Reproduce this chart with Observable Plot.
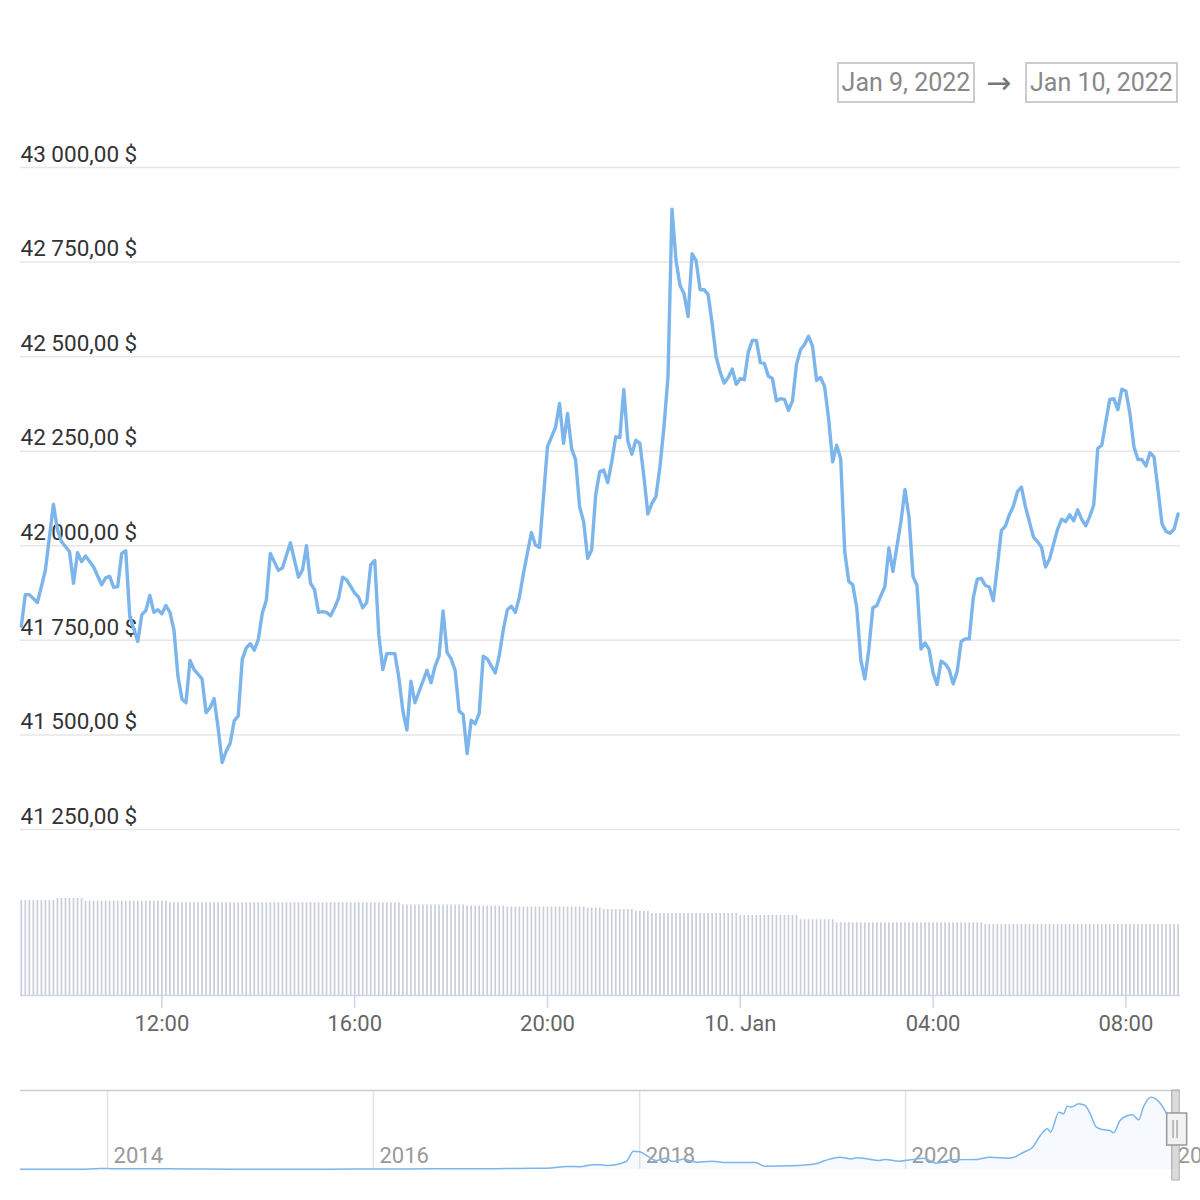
<!DOCTYPE html>
<html>
<head>
<meta charset="utf-8">
<script src="https://cdn.jsdelivr.net/npm/d3@7"></script>
<script src="https://cdn.jsdelivr.net/npm/@observablehq/plot@0.6"></script>
<style>
  body { margin: 0; background: #ffffff; font-family: Roboto, sans-serif; }
  #wrap { position: relative; width: 1200px; height: 1200px; overflow: hidden; background: #fff; }
  .box { position: absolute; top: 62px; height: 41px; border: 2px solid #cccccc; box-sizing: border-box;
         color: #888888; font-size: 25px; line-height: 37px; text-align: center; font-family: Roboto, sans-serif; }
  .arrow { position: absolute; top: 62px; height: 41px; line-height: 41px; color: #777777; font-size: 30px; font-family: "DejaVu Sans", sans-serif; }
  .layer { position: absolute; left: 0; }
</style>
</head>
<body>
<div id="wrap">
  <div class="box" style="left:837px;width:138px;">Jan 9, 2022</div>
  <div class="arrow" style="left:986px;">→</div>
  <div class="box" style="left:1025px;width:153px;">Jan 10, 2022</div>
  <div id="price" class="layer" style="top:0px;"></div>
  <div id="volume" class="layer" style="top:880px;"></div>
  <div id="nav" class="layer" style="top:1085px;"></div>
</div>
<script>
// ---------- price data (5-minute samples) ----------
const jan9Times = ["09:05","09:10","09:15","09:25","09:30","09:35","09:45","09:50","09:55","10:05","10:10","10:15","10:20","10:25","10:35","10:45","10:50","10:55","11:00","11:05","11:10","11:15","11:20","11:30","11:35","11:40","11:45","11:50","11:55","12:00","12:05","12:10","12:15","12:20","12:25","12:30","12:35","12:40","12:50","12:55","13:00","13:05","13:10","13:15","13:20","13:25","13:30","13:35","13:40","13:45","13:50","13:55","14:00","14:05","14:10","14:15","14:25","14:30","14:40","14:50","14:55","15:00","15:05","15:10","15:15","15:20","15:25","15:30","15:35","15:40","15:45","15:50","16:00","16:05","16:10","16:15","16:20","16:25","16:30","16:35","16:40","16:50","16:55","17:00","17:05","17:10","17:15","17:30","17:35","17:40","17:45","17:50","17:55","18:00","18:05","18:10","18:15","18:20","18:25","18:30","18:35","18:40","18:45","18:55","19:00","19:05","19:10","19:15","19:20","19:25","19:30","19:40","19:45","19:50","20:00","20:10","20:15","20:20","20:25","20:30","20:35","20:40","20:45","20:50","20:55","21:00","21:05","21:10","21:15","21:20","21:25","21:30","21:35","21:40","21:45","21:50","21:55","22:00","22:05","22:10","22:15","22:20","22:25","22:30","22:35","22:40","22:45","22:50","22:55","23:00","23:05","23:10","23:15","23:20","23:25","23:30","23:35","23:40","23:45","23:50","23:55"];
const jan9Prices = [41787,41871,41871,41850,41892,41936,42110,42042,42011,41985,41901,41982,41958,41973,41944,41897,41915,41919,41890,41892,41980,41987,41813,41747,41818,41829,41869,41824,41831,41820,41842,41824,41778,41655,41595,41585,41697,41673,41648,41559,41572,41596,41519,41427,41457,41478,41537,41550,41699,41730,41741,41724,41752,41822,41856,41980,41935,41941,42008,41917,41936,42000,41901,41884,41824,41826,41824,41815,41836,41862,41917,41910,41875,41864,41836,41850,41950,41961,41765,41673,41715,41715,41651,41563,41513,41642,41585,41671,41638,41681,41708,41828,41718,41701,41671,41563,41554,41451,41539,41530,41557,41708,41701,41664,41710,41778,41831,41840,41824,41864,41926,42035,42002,41996,42262,42313,42376,42271,42350,42257,42227,42103,42064,41967,41989,42134,42196,42200,42167,42222,42288,42286,42413,42277,42242,42279,42271,42183,42084,42112,42130,42209,42314,42446,42890,42754,42688,42666,42606,42772,42754,42677,42677,42664,42587,42499,42459,42430,42445,42467,42427];
const jan10Times = ["00:00","00:05","00:10","00:15","00:20","00:25","00:30","00:35","00:40","00:45","00:50","00:55","01:00","01:05","01:10","01:15","01:20","01:25","01:30","01:35","01:40","01:45","01:50","01:55","02:00","02:05","02:10","02:15","02:20","02:25","02:30","02:35","02:40","02:45","02:50","02:55","03:00","03:05","03:10","03:15","03:20","03:25","03:30","03:35","03:40","03:45","03:50","03:55","04:00","04:05","04:10","04:15","04:20","04:25","04:30","04:35","04:40","04:45","04:50","04:55","05:00","05:05","05:10","05:15","05:20","05:25","05:30","05:35","05:40","05:45","05:50","05:55","06:05","06:10","06:15","06:20","06:25","06:30","06:35","06:40","06:45","06:50","06:55","07:00","07:05","07:10","07:15","07:20","07:25","07:30","07:35","07:40","07:45","07:50","07:55","08:00","08:05","08:10","08:15","08:20","08:25","08:30","08:35","08:40","08:45","08:50","08:55","09:00","09:05"];
const jan10Prices = [42442,42439,42512,42543,42543,42484,42482,42448,42442,42383,42389,42387,42358,42383,42480,42518,42532,42554,42527,42437,42445,42420,42335,42222,42266,42230,41985,41906,41897,41836,41699,41648,41726,41836,41842,41868,41892,41994,41932,41998,42064,42149,42077,41919,41895,41727,41743,41726,41664,41633,41695,41688,41673,41635,41668,41747,41754,41754,41862,41912,41914,41895,41891,41855,41945,42040,42052,42082,42105,42143,42155,42103,42023,42011,41996,41944,41965,42005,42044,42070,42064,42082,42066,42095,42070,42053,42077,42108,42257,42266,42328,42387,42389,42360,42414,42409,42350,42262,42228,42228,42211,42246,42235,42148,42058,42038,42033,42044,42084];

// ---------- volume bars (relative heights, runs of equal 5-minute bars) ----------
const volumeRunStarts = ["2022-01-09T09:05","2022-01-09T09:50","2022-01-09T10:25","2022-01-09T12:10","2022-01-09T17:00","2022-01-09T18:20","2022-01-09T19:10","2022-01-09T20:50","2022-01-09T21:10","2022-01-09T21:50","2022-01-09T22:10","2022-01-10T00:00","2022-01-10T01:15","2022-01-10T02:00","2022-01-10T05:05"];
const volumeRunLevels = [95, 97, 94.3, 92.7, 90.5, 89.5, 88.5, 87.5, 86, 84, 82, 80, 75.7, 72.7, 71];
const volumeEnd = "2022-01-10T09:05";

// ---------- axes ----------
const yTicks = [41250, 41500, 41750, 42000, 42250, 42500, 42750, 43000];
const xTickTimes = ["2022-01-09T12:00","2022-01-09T16:00","2022-01-09T20:00","2022-01-10T00:00","2022-01-10T04:00","2022-01-10T08:00"];
const xTickLabels = ["12:00","16:00","20:00","10. Jan","04:00","08:00"];

// ---------- navigator (whole history) ----------
const navDates = ["2013-05-07","2013-10-01","2013-11-25","2013-12-10","2014-01-10","2014-03-01","2014-06-15","2014-10-01","2015-01-15","2015-06-15","2015-11-10","2016-01-15","2016-06-20","2016-10-01","2017-01-05","2017-03-15","2017-05-01","2017-06-15","2017-07-20","2017-08-25","2017-09-15","2017-10-05","2017-11-25","2017-12-15","2018-01-01","2018-01-25","2018-02-15","2018-03-15","2018-04-01","2018-05-01","2018-06-06","2018-07-20","2018-08-20","2018-11-15","2018-12-10","2019-03-15","2019-04-30","2019-05-25","2019-07-05","2019-08-05","2019-08-20","2019-09-15","2019-10-20","2019-11-05","2019-12-15","2020-01-15","2020-02-20","2020-03-25","2020-05-05","2020-07-15","2020-08-20","2020-10-05","2020-10-25","2020-11-20","2020-12-15","2021-01-05","2021-01-25","2021-02-02","2021-02-25","2021-03-10","2021-03-20","2021-04-01","2021-04-20","2021-05-08","2021-05-22","2021-06-08","2021-06-25","2021-07-15","2021-07-25","2021-08-12","2021-09-02","2021-09-15","2021-10-02","2021-10-15","2021-11-05","2021-11-18","2021-12-05","2021-12-18","2022-01-10"];
const navPrices = [120,130,700,900,800,600,600,380,230,240,350,400,700,620,950,1100,1500,2800,2600,4350,4300,3700,7400,17000,16500,12000,8300,10500,7400,9500,6800,7700,6500,6500,3100,3800,5300,8300,11400,9800,11000,9900,8300,9300,7700,9000,10500,5800,9000,9300,11400,10500,11400,16000,20700,31500,37700,34600,53100,51600,58700,57800,60900,59300,51600,39200,37100,36200,34000,45400,50000,50700,46000,57800,67000,65500,59300,51600,42000];
const navYears = ["2014","2016","2018","2020","2022"];
const navSelection = [{start: "2022-01-09", end: "2022-01-10"}];

// ---------- build tables ----------
const priceData = [
  ...jan9Times.map((t, i) => ({date: new Date("2022-01-09T" + t), price: jan9Prices[i]})),
  ...jan10Times.map((t, i) => ({date: new Date("2022-01-10T" + t), price: jan10Prices[i]}))
];
const volumeData = [];
volumeRunStarts.forEach((s, i) => {
  const a = new Date(s);
  const b = i + 1 < volumeRunStarts.length ? new Date(volumeRunStarts[i + 1]) : new Date(+new Date(volumeEnd) + 1);
  d3.timeMinute.every(5).range(a, b).forEach(d => volumeData.push({date: d, vol: volumeRunLevels[i]}));
});
const navData = navDates.map((d, i) => ({date: new Date(d), price: navPrices[i]}));
const selData = navSelection.map(s => ({start: new Date(s.start), end: new Date(s.end)}));
const tickLabelMap = new Map(xTickTimes.map((t, i) => [+new Date(t), xTickLabels[i]]));

const money = d3.formatLocale({decimal: ",", thousands: "\u00a0", grouping: [3], currency: ["", "\u00a0$"]}).format("$,.2f");
const xDomain = [new Date("2022-01-09T09:04"), new Date("2022-01-10T09:08")];
const font = {fontFamily: "Roboto, sans-serif", background: "transparent", overflow: "visible"};

// ---------- price chart ----------
const pricePlot = Plot.plot({
  width: 1200, height: 850,
  marginTop: 167, marginBottom: 21, marginLeft: 20, marginRight: 20,
  style: font,
  x: {type: "time", domain: xDomain, axis: null},
  y: {domain: [41250, 43000], axis: null},
  marks: [
    Plot.ruleY(yTicks, {stroke: "#e6e6e6", strokeWidth: 1.5}),
    Plot.text(yTicks, {y: d => d, text: d => money(d), frameAnchor: "left", textAnchor: "start", dy: -13, fontSize: 22.5, fill: "#333333"}),
    Plot.line(priceData, {x: "date", y: "price", stroke: "#7cb5ec", strokeWidth: 3.4, strokeLinejoin: "round", strokeLinecap: "round"})
  ]
});
document.getElementById("price").appendChild(pricePlot);

// ---------- volume + time axis ----------
const volumePlot = Plot.plot({
  width: 1200, height: 160,
  marginTop: 15, marginBottom: 45, marginLeft: 20, marginRight: 20,
  style: font,
  x: {type: "time", domain: xDomain, axis: null},
  y: {domain: [0, 100], axis: null},
  marks: [
    Plot.ruleX(volumeData, {x: "date", y1: 0, y2: "vol", stroke: "#c9ced9", strokeWidth: 1.7}),
    Plot.ruleY([0], {stroke: "#ccd6eb", strokeWidth: 1.5}),
    Plot.axisX(xTickTimes.map(t => new Date(t)), {
      tickSize: 13, tickPadding: 7, stroke: "#ccd6eb", strokeWidth: 1.5,
      tickFormat: d => tickLabelMap.get(+d), fontSize: 22, fill: "#666666"
    })
  ]
});
document.getElementById("volume").appendChild(volumePlot);

// ---------- navigator ----------
const navPlot = Plot.plot({
  width: 1200, height: 115,
  marginTop: 5, marginBottom: 31, marginLeft: 20, marginRight: 20,
  style: font,
  x: {type: "time", domain: [new Date("2013-05-07"), new Date("2022-01-25")], axis: null},
  y: {domain: [0, 73200], axis: null},
  marks: [
    Plot.ruleX(navYears, {x: d => new Date(d + "-01-01"), stroke: "#e3e3e3", strokeWidth: 1.5}),
    Plot.text(navYears, {x: d => new Date(d + "-01-01"), text: d => d, frameAnchor: "bottom", lineAnchor: "bottom", textAnchor: "start", dx: 6, dy: -7, fontSize: 22, fill: "#999999"}),
    Plot.areaY(navData, {x: "date", y: "price", fill: "#7cb5ec", fillOpacity: 0.07, curve: "monotone-x"}),
    Plot.lineY(navData, {x: "date", y: "price", stroke: "#7cb5ec", strokeWidth: 1.5, curve: "monotone-x"}),
    Plot.ruleY([73200], {stroke: "#cccccc", strokeWidth: 1.5}),
    Plot.rect(selData, {x1: "start", x2: "end", insetLeft: -2.5, insetRight: -4.7, insetBottom: -11, fill: "#bdbdbd", fillOpacity: 0.55, stroke: "#b0b0b0", strokeWidth: 1}),
    Plot.rect(selData, {x1: "start", x2: "end", insetLeft: -7.5, insetRight: -12.1, insetTop: 23, insetBottom: 24, fill: "#f2f2f2", stroke: "#999999", strokeWidth: 1.5}),
    Plot.ruleX(selData, {x: "end", dx: -2, insetTop: 30, insetBottom: 31, stroke: "#999999", strokeWidth: 1.2}),
    Plot.ruleX(selData, {x: "end", dx: 2, insetTop: 30, insetBottom: 31, stroke: "#999999", strokeWidth: 1.2})
  ]
});
document.getElementById("nav").appendChild(navPlot);
</script>
</body>
</html>
